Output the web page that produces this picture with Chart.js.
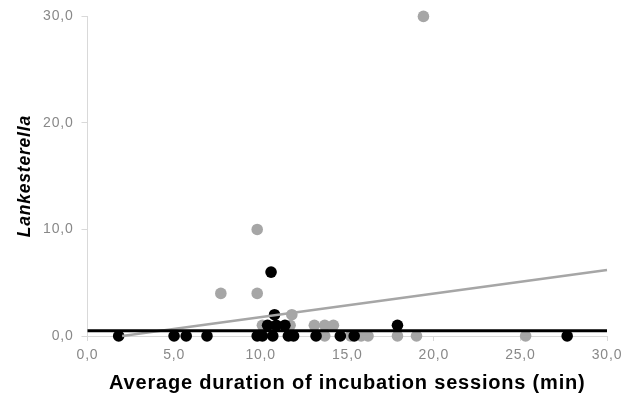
<!DOCTYPE html>
<html>
<head>
<meta charset="utf-8">
<script src="https://cdn.jsdelivr.net/npm/chart.js@4/dist/chart.umd.min.js"></script>
<style>
html,body{margin:0;padding:0;background:#fff;}
#wrap{width:635px;height:399px;}
</style>
</head>
<body>
<div id="wrap"><canvas id="c" width="635" height="399"></canvas></div>
<script>
const grayX = [19.4, 9.8, 7.7, 9.8, 11.8, 10.1, 11.7, 13.1, 13.7, 14.2, 13.7, 15.2, 15.8, 16.2, 17.9, 19.0, 25.3];
const grayY = [30, 10, 4, 4, 2, 1, 1, 1, 1, 1, 0, 0, 0, 0, 0, 0, 0];
const blackX = [10.6, 10.8, 10.4, 10.9, 11.4, 17.9, 1.8, 5.0, 5.7, 6.9, 9.8, 10.1, 10.7, 11.6, 11.9, 13.2, 14.6, 15.4, 27.7];
const blackY = [6, 2, 1, 1, 1, 1, 0, 0, 0, 0, 0, 0, 0, 0, 0, 0, 0, 0, 0];
const grayTrendX = [2.0, 30];
const grayTrendY = [0, 6.2];
const blackTrendX = [0, 30];
const blackTrendY = [0.5, 0.5];
const xTitle = 'Average duration of incubation sessions (min)';
const yTitle = 'Lankesterella';

const pts = (xs, ys) => xs.map((x, i) => ({x: x, y: ys[i]}));
const fmt = v => Number(v).toFixed(1).replace('.', ',');

const spacing = {
  id: 'spacing',
  beforeUpdate(chart) { chart.ctx.letterSpacing = '0.8px'; },
  beforeLayout(chart) { chart.ctx.letterSpacing = '0.8px'; },
  beforeDraw(chart) { chart.ctx.letterSpacing = '0.8px'; }
};

new Chart(document.getElementById('c'), {
  type: 'scatter',
  plugins: [spacing],
  data: {
    datasets: [
      {data: pts(blackTrendX, blackTrendY), showLine: true, borderColor: '#000', borderWidth: 3, pointRadius: 0, order: 0, clip: false},
      {data: pts(grayTrendX, grayTrendY), showLine: true, borderColor: '#a6a6a6', borderWidth: 2.5, pointRadius: 0, order: 0, clip: false},
      {data: pts(blackX, blackY), backgroundColor: '#000', borderColor: '#000', pointRadius: 5.8, borderWidth: 0, order: 1, clip: false},
      {data: pts(grayX, grayY), backgroundColor: '#a6a6a6', borderColor: '#a6a6a6', pointRadius: 5.8, borderWidth: 0, order: 2, clip: false}
    ]
  },
  options: {
    responsive: false,
    animation: false,
    events: [],
    layout: {padding: {left: 0, right: 28, top: 13, bottom: 0}},
    plugins: {legend: {display: false}, tooltip: {enabled: false}},
    scales: {
      x: {
        type: 'linear', min: 0, max: 30,
        border: {color: '#d9d9d9', width: 1},
        grid: {drawOnChartArea: false, drawTicks: true, tickLength: 5, color: '#d9d9d9'},
        ticks: {stepSize: 5, padding: 6, color: '#888888', font: {family: 'Liberation Sans', size: 14}, callback: v => fmt(v)},
        title: {display: true, text: xTitle, color: '#000', font: {family: 'Liberation Sans', size: 20, weight: 'bold'}, padding: {top: 0, bottom: 4}},
        afterFit: s => { s.height = 63; }
      },
      y: {
        type: 'linear', min: 0, max: 30,
        border: {color: '#d9d9d9', width: 1},
        grid: {drawOnChartArea: false, drawTicks: true, tickLength: 6, color: '#d9d9d9'},
        ticks: {stepSize: 10, padding: 8, color: '#888888', font: {family: 'Liberation Sans', size: 14}, callback: v => fmt(v)},
        title: {display: true, text: yTitle, color: '#000', font: {family: 'Liberation Sans', size: 17.5, weight: 'bold', style: 'italic'}, padding: {top: 15, bottom: 0}},
        afterFit: s => { s.width = 87.5; }
      }
    }
  }
});
</script>
</body>
</html>
